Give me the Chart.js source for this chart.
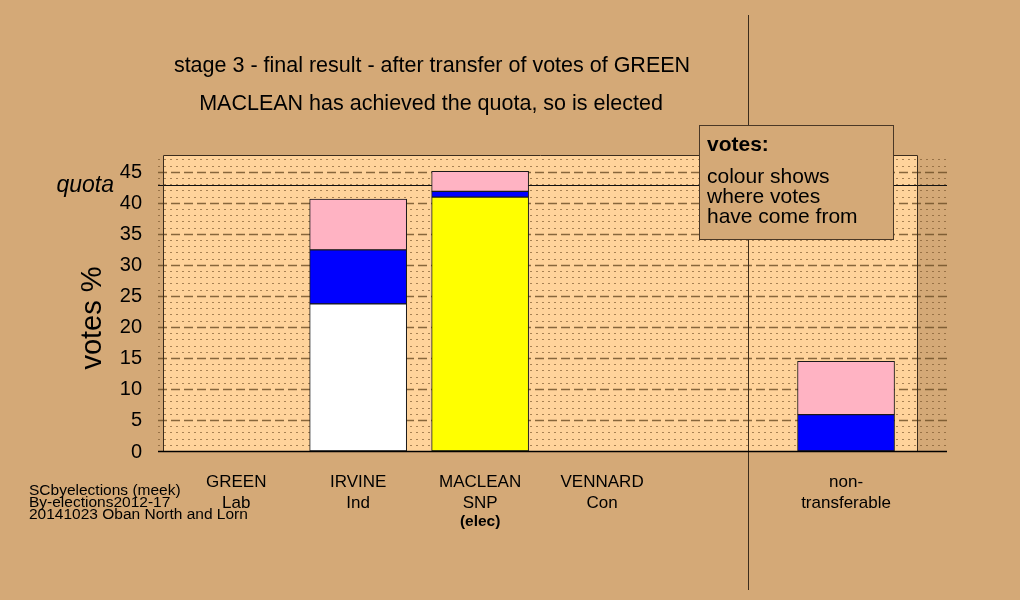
<!DOCTYPE html>
<html>
<head>
<meta charset="utf-8">
<script src="https://cdn.jsdelivr.net/npm/chart.js@4.4.0/dist/chart.umd.min.js"></script>
<style>
  html, body { margin: 0; padding: 0; background: #D4A977; }
  #wrap { width: 1020px; height: 600px; }
</style>
</head>
<body>
<div id="wrap"><canvas id="stageChart" width="1020" height="600"></canvas></div>
<script>
// slot 4 stays empty, non-transferable sits on its own at the right
const candidates = ["GREEN", "IRVINE", "MACLEAN", "VENNARD", "", "non-"];
const parties = ["Lab", "Ind", "SNP", "Con", "", "transferable"];
const notes = ["", "", "(elec)", "", "", ""];

// votes % split by where they came from
const ownVotes = [0, 23.7, 40.9, 0, 0, 0];
const fromCon = [0, 8.7, 0.95, 0, 0, 5.85];
const fromLab = [0, 8.2, 3.2, 0, 0, 8.6];
const ownColours = ["#FFFFFF", "#FFFFFF", "#FFFF00", "#FFFFFF", "#FFFFFF", "#FFFFFF"];

const yTicks = [0, 5, 10, 15, 20, 25, 30, 35, 40, 45];
const quota = 42.8;
const yMax = 47.7;

const titleLines = [
  "stage 3 - final result - after transfer of votes of GREEN",
  "MACLEAN has achieved the quota, so is elected"
];
const legendLines = ["colour shows", "where votes", "have come from"];
const footLines = ["SCbyelections (meek)", "By-elections2012-17", "20141023 Oban North and Lorn"];

const BG = "#D4A977";
const PANEL = "#FFD39B";
const FONT = "'Liberation Sans', Arial, sans-serif";

const toPoints = (arr) => arr.map((v, i) => ({ x: i, y: v }));

function hline(ctx, x1, x2, py) {
  ctx.beginPath();
  ctx.moveTo(x1, py);
  ctx.lineTo(x2, py);
  ctx.stroke();
}

const backdrop = {
  id: "backdrop",
  beforeDraw(chart) {
    const { ctx, chartArea: a, scales: { x, y } } = chart;
    ctx.save();
    ctx.fillStyle = BG;
    ctx.fillRect(0, 0, chart.width, chart.height);
    ctx.fillStyle = PANEL;
    ctx.fillRect(a.left, a.top, a.right - a.left, a.bottom - a.top);

    // dotted lines every unit, dashed every 5
    const gx1 = a.left - 5, gx2 = a.right + 29;
    for (let v = 1; v <= Math.floor(yMax); v++) {
      const py = Math.round(y.getPixelForValue(v)) + 0.5;
      if (v % 5 === 0) {
        ctx.strokeStyle = "rgba(105,75,35,0.8)";
        ctx.lineWidth = 1.3;
        ctx.setLineDash([9, 4]);
      } else {
        ctx.strokeStyle = "rgba(120,85,45,0.65)";
        ctx.lineWidth = 1;
        ctx.setLineDash([2, 4]);
      }
      hline(ctx, gx1, gx2, py);
    }
    ctx.setLineDash([]);

    // quota line
    ctx.strokeStyle = "#111";
    ctx.lineWidth = 1.2;
    hline(ctx, gx1, gx2, Math.round(y.getPixelForValue(quota)) + 0.5);

    // separator before non-transferable
    const vx = Math.round(x.getPixelForValue(4.2)) + 0.5;
    ctx.strokeStyle = "#3b2c1c";
    ctx.lineWidth = 1;
    ctx.beginPath();
    ctx.moveTo(vx, 15);
    ctx.lineTo(vx, 590);
    ctx.stroke();
    ctx.restore();
  },
  afterDraw(chart) {
    const { ctx, chartArea: a, scales: { x, y } } = chart;
    ctx.save();

    // panel frame + axis
    ctx.strokeStyle = "#3b2c1c";
    ctx.lineWidth = 1;
    ctx.beginPath();
    ctx.moveTo(a.left + 0.5, a.bottom);
    ctx.lineTo(a.left + 0.5, a.top + 0.5);
    ctx.lineTo(a.right - 0.5, a.top + 0.5);
    ctx.lineTo(a.right - 0.5, a.bottom);
    ctx.stroke();
    ctx.strokeStyle = "#000";
    ctx.lineWidth = 1.5;
    hline(ctx, a.left - 5, a.right + 29, Math.round(y.getPixelForValue(0)) + 0.5);

    // titles
    ctx.fillStyle = "#000";
    ctx.textAlign = "center";
    ctx.textBaseline = "alphabetic";
    ctx.font = "21.5px " + FONT;
    ctx.fillText(titleLines[0], 432, 72);
    ctx.fillText(titleLines[1], 431, 110);

    // y ticks
    ctx.textAlign = "right";
    ctx.textBaseline = "middle";
    ctx.font = "20px " + FONT;
    yTicks.forEach((t) => ctx.fillText(String(t), 142, y.getPixelForValue(t) + 1));
    ctx.font = "italic 23px " + FONT;
    ctx.fillText("quota", 114, y.getPixelForValue(quota));

    // y title
    ctx.save();
    ctx.translate(101, 318);
    ctx.rotate(-Math.PI / 2);
    ctx.textAlign = "center";
    ctx.textBaseline = "alphabetic";
    ctx.font = "29px " + FONT;
    ctx.fillText("votes %", 0, 0);
    ctx.restore();

    // x labels
    ctx.textAlign = "center";
    ctx.textBaseline = "alphabetic";
    candidates.forEach((name, i) => {
      const px = x.getPixelForValue(i);
      ctx.font = "17px " + FONT;
      ctx.fillText(name, px, 487);
      ctx.fillText(parties[i], px, 508);
      if (notes[i]) {
        ctx.font = "bold 15.5px " + FONT;
        ctx.fillText(notes[i], px, 526);
      }
    });

    // footnote
    ctx.textAlign = "left";
    ctx.font = "15.5px " + FONT;
    footLines.forEach((s, i) => ctx.fillText(s, 29, 495 + i * 12));

    // legend box
    ctx.fillStyle = BG;
    ctx.fillRect(699, 125, 194, 114);
    ctx.strokeStyle = "#4a3826";
    ctx.lineWidth = 1;
    ctx.strokeRect(699.5, 125.5, 194, 114);
    ctx.fillStyle = "#000";
    ctx.font = "bold 21px " + FONT;
    ctx.fillText("votes:", 707, 151);
    ctx.font = "21px " + FONT;
    legendLines.forEach((s, i) => ctx.fillText(s, 707, 183 + i * 20));

    ctx.restore();
  }
};

const barStyle = {
  borderColor: "#1a1a1a",
  borderWidth: 1,
  borderSkipped: false,
  barThickness: 97
};

new Chart(document.getElementById("stageChart"), {
  type: "bar",
  data: {
    datasets: [
      { label: "own", data: toPoints(ownVotes), backgroundColor: ownColours, ...barStyle },
      { label: "from Con", data: toPoints(fromCon), backgroundColor: "#0000FF", ...barStyle },
      { label: "from Lab", data: toPoints(fromLab), backgroundColor: "#FFB3C3", ...barStyle }
    ]
  },
  options: {
    responsive: false,
    animation: false,
    devicePixelRatio: 1,
    layout: { padding: { left: 163, right: 102, top: 155, bottom: 149 } },
    plugins: { legend: { display: false }, tooltip: { enabled: false } },
    scales: {
      x: { type: "linear", min: -0.6, max: 5.59, offset: false, stacked: true, display: false },
      y: { min: 0, max: yMax, stacked: true, display: false }
    }
  },
  plugins: [backdrop]
});
</script>
</body>
</html>
